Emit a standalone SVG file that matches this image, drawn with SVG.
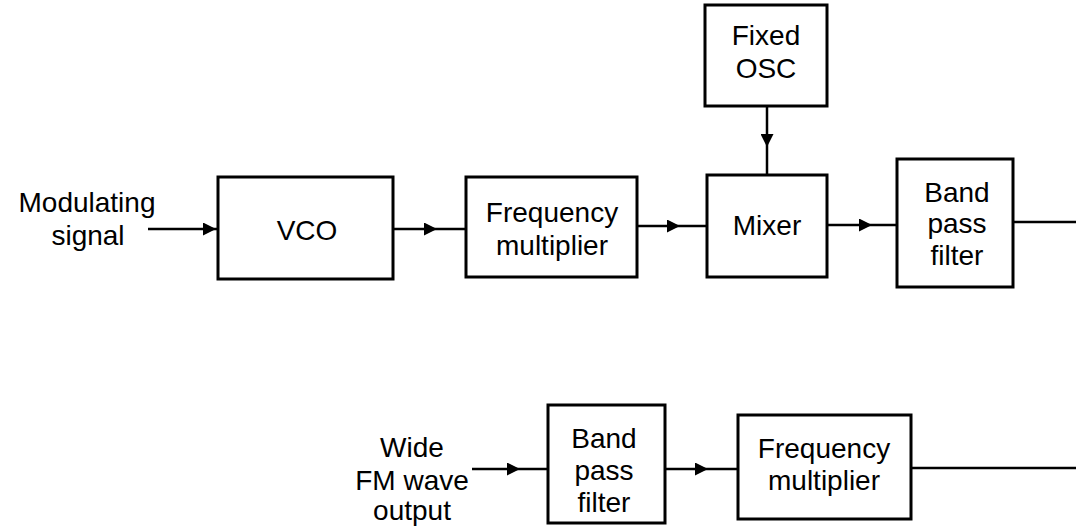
<svg xmlns="http://www.w3.org/2000/svg" width="1076" height="532" viewBox="0 0 1076 532">
<style>
.box{fill:#fff;stroke:#000;stroke-width:3}
.t{font-family:"Liberation Sans",Arial,sans-serif;font-size:28px;fill:#000;text-anchor:middle}
.c{fill:none;stroke:#000;stroke-width:2.5;marker-mid:url(#ah)}
.p{fill:none;stroke:#000;stroke-width:2.5}
</style>
<defs>
<marker id="ah" viewBox="0 0 12 12" refX="12" refY="6" markerUnits="userSpaceOnUse" markerWidth="13" markerHeight="13" orient="auto">
<path d="M0,0 L12,6 L0,12 z" fill="#000"/>
</marker>
</defs>
<rect width="1076" height="532" fill="#fff"/>
<g id="label-modulating">
<text class="t" x="87" y="212">Modulating</text>
<text class="t" x="88" y="245">signal</text>
</g>
<g id="vco">
<rect class="box" x="218" y="177" width="175" height="102"/>
<text class="t" x="307" y="240">VCO</text>
</g>
<g id="freq-mult-1">
<rect class="box" x="466" y="177" width="171" height="100"/>
<text class="t" x="552" y="222">Frequency</text>
<text class="t" x="552" y="255">multiplier</text>
</g>
<g id="fixed-osc">
<rect class="box" x="705" y="5" width="122" height="101"/>
<text class="t" x="766" y="45">Fixed</text>
<text class="t" x="766" y="78">OSC</text>
</g>
<g id="mixer">
<rect class="box" x="707" y="175" width="120" height="102"/>
<text class="t" x="767" y="235">Mixer</text>
</g>
<g id="bpf-1">
<rect class="box" x="897" y="159" width="116" height="128"/>
<text class="t" x="957" y="202">Band</text>
<text class="t" x="957" y="233">pass</text>
<text class="t" x="957" y="265">filter</text>
</g>
<g id="label-wide">
<text class="t" x="412" y="457">Wide</text>
<text class="t" x="412" y="490">FM wave</text>
<text class="t" x="412" y="520">output</text>
</g>
<g id="bpf-2">
<rect class="box" x="548" y="405" width="117" height="118"/>
<text class="t" x="604" y="448">Band</text>
<text class="t" x="604" y="480">pass</text>
<text class="t" x="604" y="512">filter</text>
</g>
<g id="freq-mult-2">
<rect class="box" x="738" y="415" width="173" height="104"/>
<text class="t" x="824" y="458">Frequency</text>
<text class="t" x="824" y="490">multiplier</text>
</g>
<g id="connectors">
<path class="c" d="M148,229 L216,229 L218,229"/>
<path class="c" d="M393,229 L437,229 L466,229"/>
<path class="c" d="M637,226 L680,226 L707,226"/>
<path class="c" d="M767,106 L767,147 L767,175"/>
<path class="c" d="M827,225 L872,225 L897,225"/>
<path class="p" d="M1013,222 L1076,222"/>
<path class="c" d="M472,469 L520,469 L548,469"/>
<path class="c" d="M665,469 L708,469 L738,469"/>
<path class="p" d="M911,468 L1076,468"/>
</g>
</svg>
